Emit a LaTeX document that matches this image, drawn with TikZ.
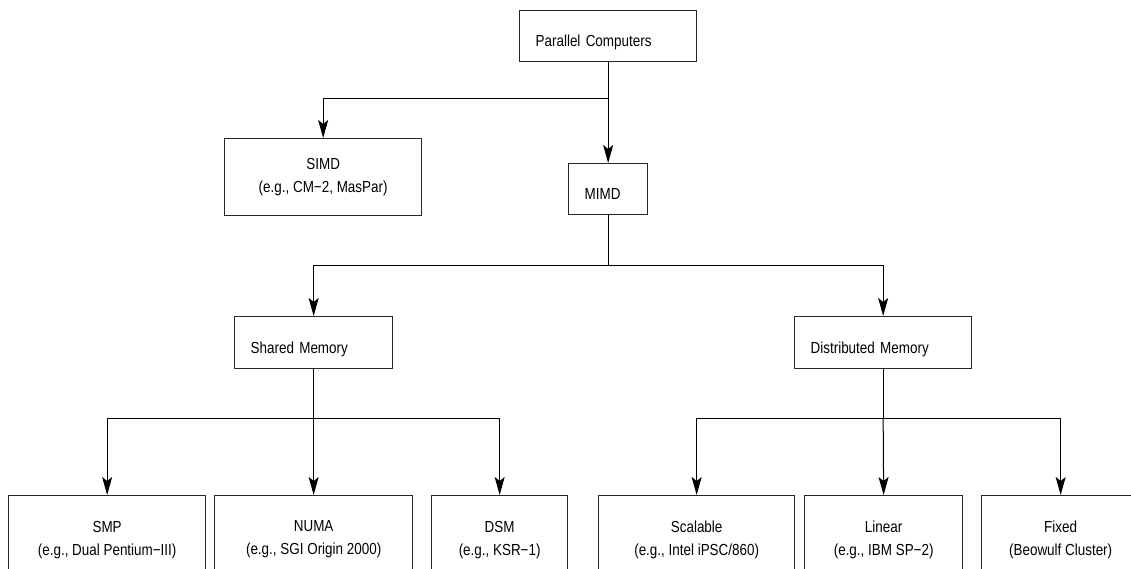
\documentclass[tikz,border=0pt]{standalone}
\usepackage{fontspec}
\setmainfont{Liberation Sans}[FakeStretch=0.84]
\usepackage{tikz}
\usetikzlibrary{arrows.meta}

\begin{document}
\begin{tikzpicture}[x=1pt,y=-1pt,
	box/.style={draw=black!85,line width=1.3pt,anchor=north west,inner sep=0pt,font=\fontsize{16}{23}\selectfont},
	onebox/.style={box,align=left,inner xsep=16pt,text height=21pt,text depth=0pt},
	twobox/.style={box,align=center},
	arr/.style={line width=1pt,-{Stealth[length=18pt,width=10pt,inset=4pt]}},
	bus/.style={line width=1pt}]
	\useasboundingbox (0,0) rectangle (1131,569);
	\clip (0,0) rectangle (1131,569);
	% boxes
	\node[onebox,text width=145pt,minimum height=51pt] (pc) at (519,10) {Parallel Computers};
	\node[twobox,minimum width=197pt,minimum height=77pt] (simd) at (224,138) {SIMD\\(e.g., CM−2, MasPar)};
	\node[onebox,text width=47pt,minimum height=51pt] (mimd) at (568,163) {MIMD};
	\node[onebox,text width=126pt,minimum height=52pt] (shared) at (234,316) {Shared Memory};
	\node[onebox,text width=145pt,minimum height=52pt] (dist) at (794,316) {Distributed Memory};
	\node[twobox,minimum width=197pt,minimum height=88pt] (smp) at (8,495) {SMP\\(e.g., Dual Pentium−III)};
	\node[twobox,minimum width=198pt,minimum height=88pt] (numa) at (214,495) {NUMA\\(e.g., SGI Origin 2000)};
	\node[twobox,minimum width=136pt,minimum height=88pt] (dsm) at (431,495) {DSM\\(e.g., KSR−1)};
	\node[twobox,minimum width=196pt,minimum height=88pt] (scal) at (598,495) {Scalable\\(e.g., Intel iPSC/860)};
	\node[twobox,minimum width=158pt,minimum height=88pt] (lin) at (804,495) {Linear\\(e.g., IBM SP−2)};
	\node[twobox,minimum width=158pt,minimum height=88pt] (fixed) at (981,495) {Fixed\\(Beowulf Cluster)};
	% junctions
	\coordinate (j1) at (pc.south |- 0,99);
	\coordinate (j2) at (mimd.south |- 0,265);
	\coordinate (j3) at (shared.south |- 0,418);
	\coordinate (j4) at (dist.south |- 0,418);
	% connectors
	\draw[bus] (pc.south) -- (j1);
	\draw[arr] (j1) -| (simd.north);
	\draw[arr] (j1) -- (mimd.north);
	\draw[bus] (mimd.south) -- (j2);
	\draw[arr] (j2) -| (shared.north);
	\draw[arr] (j2) -| (dist.north);
	\draw[bus] (shared.south) -- (j3);
	\draw[arr] (j3) -| (smp.north);
	\draw[arr] (j3) -- (numa.north);
	\draw[arr] (j3) -| (dsm.north);
	\draw[bus] (dist.south) -- (j4);
	\draw[arr] (j4) -| (scal.north);
	\draw[arr] (j4) -- (lin.north);
	\draw[arr] (j4) -| (fixed.north);
\end{tikzpicture}
\end{document}
